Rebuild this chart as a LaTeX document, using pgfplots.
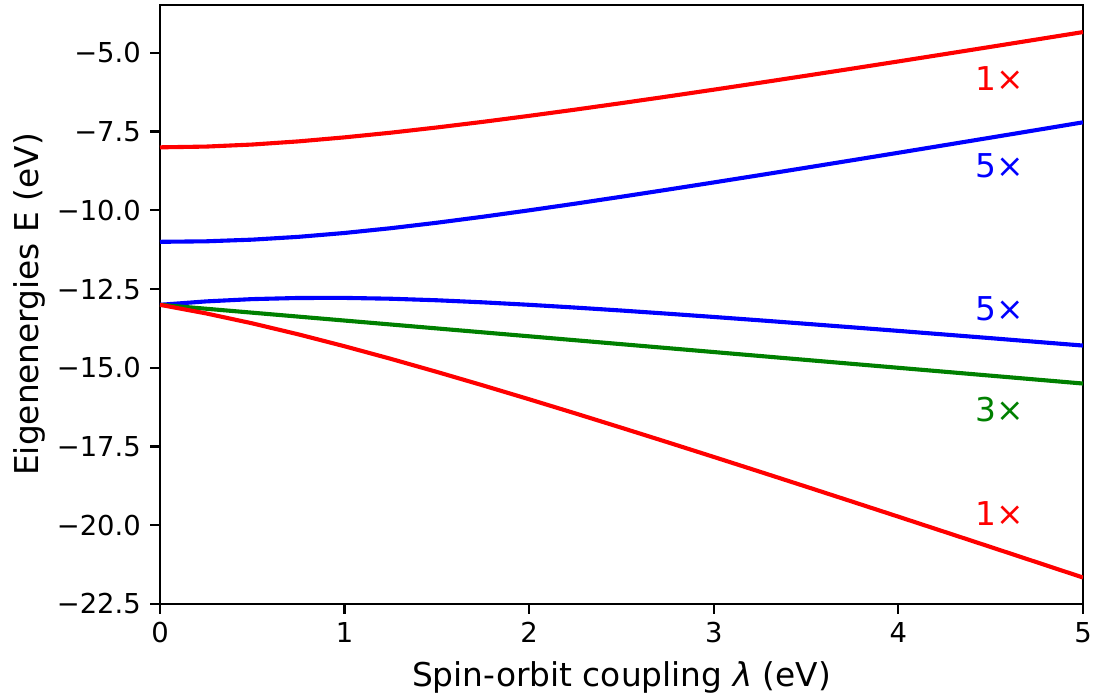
\documentclass[border=0pt]{standalone}
\usepackage{pgfplots}
\pgfplotsset{compat=1.18}
\usepackage{fontspec}
\setmainfont{DejaVu Sans}
\definecolor{mplred}{rgb}{1,0,0}
\definecolor{mplblue}{rgb}{0,0,1}
\definecolor{mplgreen}{rgb}{0,0.5,0}
\begin{document}
\begin{tikzpicture}
\path[use as bounding box] (-80pt,-47.5pt) rectangle (468.5pt,302pt);
\begin{axis}[
  at={(0,0)}, anchor=south west,
  scale only axis, width=461.5pt, height=299.5pt,
  xmin=0, xmax=5, ymin=-22.5, ymax=-3.48,
  xtick={0,1,2,3,4,5},
  ytick={-22.5,-20,-17.5,-15,-12.5,-10,-7.5,-5},
  yticklabels={−22.5,−20.0,−17.5,−15.0,−12.5,−10.0,−7.5,−5.0},
  /pgf/number format/assume math mode=true,
  tick label style={font=\fontsize{13.7}{16}\selectfont},
  label style={font=\fontsize{16.4}{19}\selectfont},
  xlabel={Spin-orbit coupling {\itshape λ} (eV)},
  ylabel={Eigenenergies E (eV)},
  xlabel style={at={(axis description cs:0.5,0)}, anchor=base, yshift=-41.5pt},
  ylabel style={at={(axis description cs:-0.1419,0.5)}, anchor=center},
  tick align=outside, major tick length=4.8pt,
  tick pos=left,
  axis line style={line width=1.1pt},
  every tick/.style={black, line width=1.1pt},
  xticklabel style={inner sep=4.2pt},
  yticklabel style={inner sep=4.6pt},
  clip=true,
]
\addplot[mplred, line width=2.05pt] coordinates {
(0,-8.000)(0.25,-7.976)(0.5,-7.911)(0.75,-7.811)(1,-7.683)(1.25,-7.535)(1.5,-7.369)(1.75,-7.190)(2,-7.000)(2.25,-6.802)(2.5,-6.596)(2.75,-6.385)(3,-6.169)(3.25,-5.949)(3.5,-5.726)(3.75,-5.500)(4,-5.272)(4.25,-5.041)(4.5,-4.809)(4.75,-4.575)(5,-4.340)};
\addplot[mplblue, line width=2.05pt] coordinates {
(0,-11.000)(0.25,-10.984)(0.5,-10.931)(0.75,-10.842)(1,-10.719)(1.25,-10.568)(1.5,-10.394)(1.75,-10.203)(2,-10.000)(2.25,-9.788)(2.5,-9.568)(2.75,-9.343)(3,-9.114)(3.25,-8.882)(3.5,-8.647)(3.75,-8.410)(4,-8.172)(4.25,-7.932)(4.5,-7.691)(4.75,-7.449)(5,-7.206)};
\addplot[mplblue, line width=2.05pt] coordinates {
(0,-13.000)(0.25,-12.892)(0.5,-12.819)(0.75,-12.783)(1,-12.781)(1.25,-12.807)(1.5,-12.856)(1.75,-12.922)(2,-13.000)(2.25,-13.088)(2.5,-13.182)(2.75,-13.282)(3,-13.386)(3.25,-13.493)(3.5,-13.603)(3.75,-13.715)(4,-13.828)(4.25,-13.943)(4.5,-14.059)(4.75,-14.177)(5,-14.294)};
\addplot[mplgreen, line width=2.05pt] coordinates {(0,-13.0)(5,-15.5)};
\addplot[mplred, line width=2.05pt] coordinates {
(0,-13.000)(0.25,-13.274)(0.5,-13.589)(0.75,-13.939)(1,-14.317)(1.25,-14.715)(1.5,-15.131)(1.75,-15.560)(2,-16.000)(2.25,-16.448)(2.5,-16.904)(2.75,-17.365)(3,-17.831)(3.25,-18.301)(3.5,-18.774)(3.75,-19.250)(4,-19.728)(4.25,-20.209)(4.5,-20.691)(4.75,-21.175)(5,-21.660)};
\node[anchor=west, inner sep=0pt, text=mplred, font=\fontsize{16.4}{19}\selectfont] at (axis cs:4.415,-5.81) {1×};
\node[anchor=west, inner sep=0pt, text=mplblue, font=\fontsize{16.4}{19}\selectfont] at (axis cs:4.415,-8.60) {5×};
\node[anchor=west, inner sep=0pt, text=mplblue, font=\fontsize{16.4}{19}\selectfont] at (axis cs:4.415,-13.13) {5×};
\node[anchor=west, inner sep=0pt, text=mplgreen, font=\fontsize{16.4}{19}\selectfont] at (axis cs:4.415,-16.34) {3×};
\node[anchor=west, inner sep=0pt, text=mplred, font=\fontsize{16.4}{19}\selectfont] at (axis cs:4.415,-19.64) {1×};
\end{axis}
\end{tikzpicture}
\end{document}
